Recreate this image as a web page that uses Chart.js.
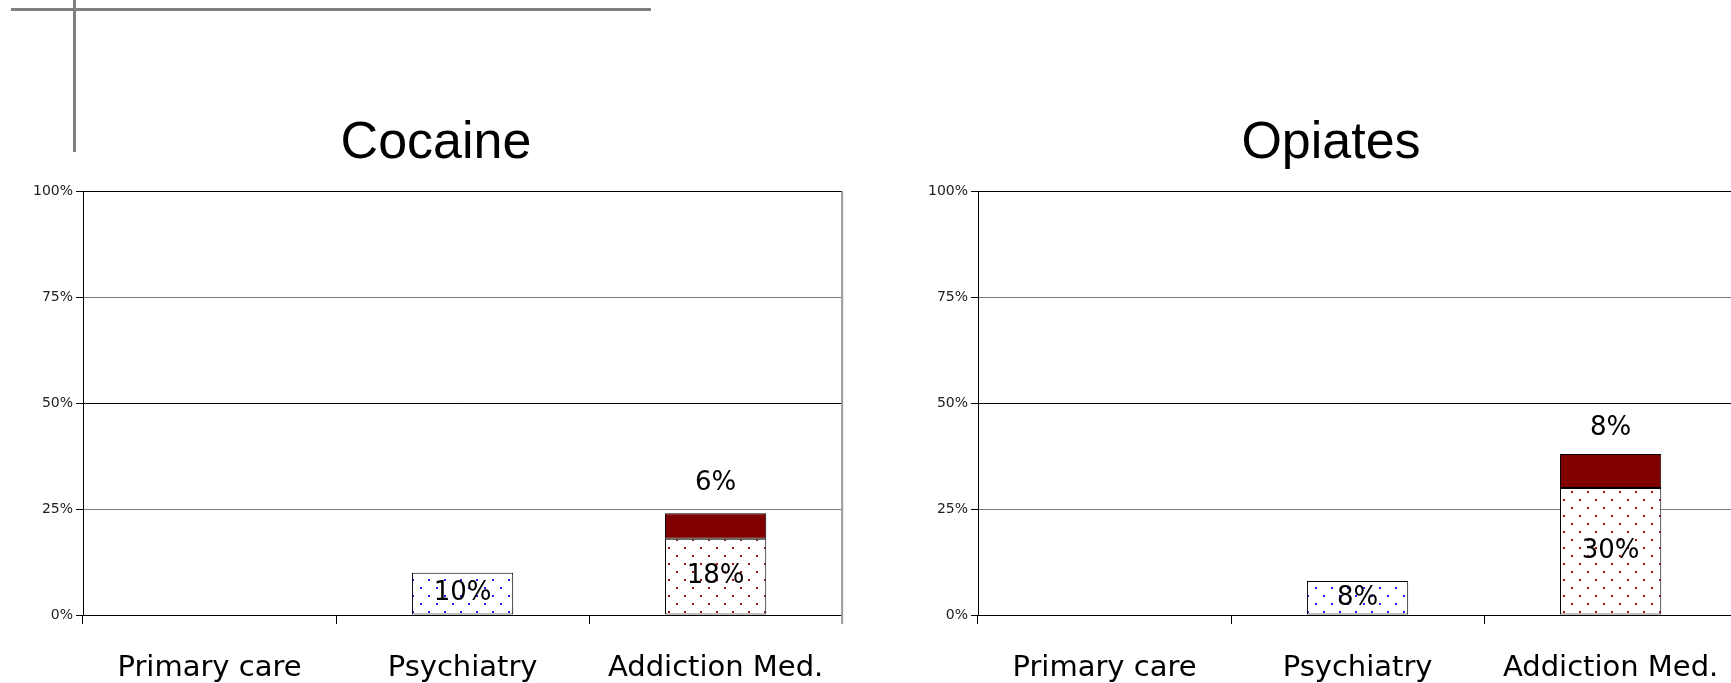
<!DOCTYPE html>
<html>
<head>
<meta charset="utf-8">
<script src="https://cdn.jsdelivr.net/npm/chart.js@4.4.1/dist/chart.umd.min.js"></script>
<style>
  html, body { margin: 0; padding: 0; background: #fff; }
  body { width: 1731px; height: 683px; overflow: hidden; position: relative; }
  .box { position: absolute; top: 0; }
  .rule { position: absolute; background: #808080; }
</style>
</head>
<body>
<div class="rule" style="left:11px; top:8px; width:640px; height:3px"></div>
<div class="rule" style="left:73px; top:0; width:3px; height:152px"></div>
<div class="box" style="left:25px"><canvas id="cocaine" width="826" height="683"></canvas></div>
<div class="box" style="left:920px"><canvas id="opiates" width="826" height="683"></canvas></div>
<script>
const categories = ["Primary care", "Psychiatry", "Addiction Med."]
const yTicks = [0, 25, 50, 75, 100]

const cocaineBase = [null, 10, 18]
const cocaineTop = [null, null, 6]
const opiatesBase = [null, 8, 30]
const opiatesTop = [null, null, 8]

const dotColors = ["#1f1fff", "#1f1fff", "#9a1a1a"]

// white tile with a staggered grid of small dots
function dots(color) {
  const c = document.createElement("canvas")
  c.width = 16
  c.height = 16
  const g = c.getContext("2d")
  g.fillStyle = "#fff"
  g.fillRect(0, 0, 16, 16)
  g.fillStyle = color
  g.fillRect(3, 3, 2, 2)
  g.fillRect(11, 11, 2, 2)
  return g.createPattern(c, "repeat")
}

const valueLabels = {
  id: "valueLabels",
  afterDatasetsDraw(chart) {
    const ctx = chart.ctx
    ctx.save()
    ctx.font = "26px 'DejaVu Sans'"
    ctx.fillStyle = "#000"
    ctx.textAlign = "center"
    ctx.textBaseline = "middle"
    chart.data.datasets.forEach((ds, di) => {
      const meta = chart.getDatasetMeta(di)
      meta.data.forEach((el, i) => {
        const v = ds.data[i]
        if (v == null) return
        const mid = (el.y + el.base) / 2
        const y = di === 0 ? mid : mid - 43
        ctx.fillText(`${v}%`, el.x, y)
      })
    })
    ctx.restore()
  }
}

const rightEdge = {
  id: "rightEdge",
  afterDraw(chart) {
    const { ctx, chartArea } = chart
    ctx.save()
    ctx.strokeStyle = "#9a9a9a"
    ctx.lineWidth = 2
    ctx.beginPath()
    ctx.moveTo(chartArea.right, chartArea.top)
    ctx.lineTo(chartArea.right, chartArea.bottom + 9)
    ctx.stroke()
    ctx.restore()
  }
}

function renderPanel(id, title, base, top) {
  const ctx = document.getElementById(id).getContext("2d")
  return new Chart(ctx, {
    type: "bar",
    data: {
      labels: categories,
      datasets: [{
        data: base,
        backgroundColor: dotColors.map(dots),
        borderColor: "#000",
        borderWidth: 1,
        borderSkipped: false,
        categoryPercentage: 1,
        barPercentage: 0.4
      }, {
        data: top,
        backgroundColor: "#800000",
        borderColor: "#000",
        borderWidth: 1,
        borderSkipped: false,
        categoryPercentage: 1,
        barPercentage: 0.4
      }]
    },
    options: {
      responsive: false,
      animation: false,
      layout: { padding: { right: 4 } },
      plugins: {
        legend: { display: false },
        tooltip: { enabled: false },
        title: {
          display: true,
          text: title,
          color: "#000",
          font: { family: "'Liberation Sans'", size: 52, weight: "normal" },
          padding: { top: 112, bottom: 17 }
        }
      },
      scales: {
        x: {
          stacked: true,
          offset: true,
          grid: { offset: true, drawOnChartArea: false, color: "#000", tickLength: 9 },
          border: { color: "#000", width: 1 },
          ticks: { color: "#000", padding: 27, font: { family: "'DejaVu Sans'", size: 29 }, maxRotation: 0 },
          afterFit: (s) => { s.height = 68 }
        },
        y: {
          stacked: true,
          min: 0,
          max: 100,
          afterBuildTicks: (s) => { s.ticks = yTicks.map((v) => ({ value: v })) },
          grid: {
            color: (c) => (c.tick && c.tick.value % 50 === 0 ? "#000" : "#7a7a7a"),
            tickLength: 7,
            tickColor: "#000"
          },
          border: { color: "#000", width: 1 },
          ticks: {
            color: "#222",
            padding: 3,
            font: { family: "'DejaVu Sans'", size: 14 },
            callback: (v) => `${v}%`
          },
          afterFit: (s) => { s.width = 58 }
        }
      }
    },
    plugins: [valueLabels, rightEdge]
  })
}

renderPanel("cocaine", "Cocaine", cocaineBase, cocaineTop)
renderPanel("opiates", "Opiates", opiatesBase, opiatesTop)
</script>
</body>
</html>
